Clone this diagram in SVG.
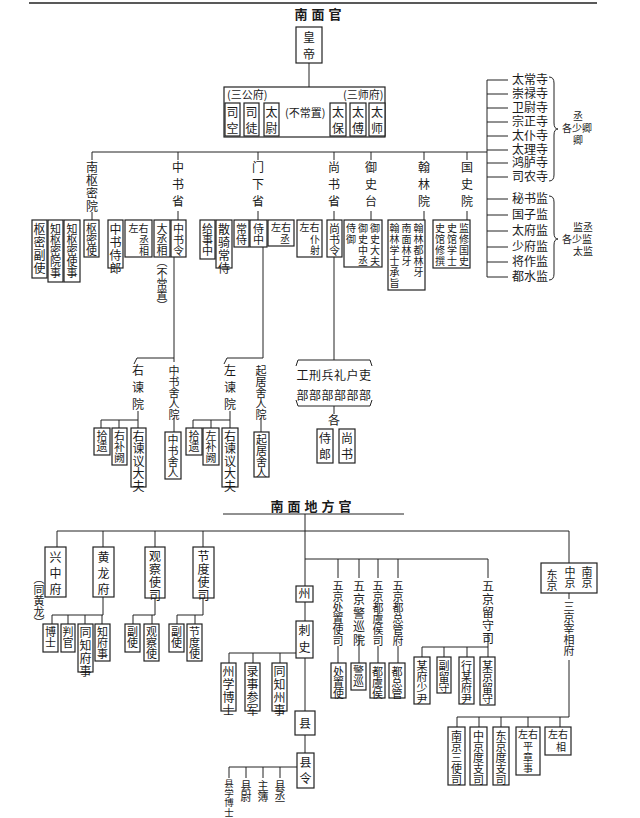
<svg xmlns="http://www.w3.org/2000/svg" width="640" height="818" viewBox="0 0 640 818">
<style>
text{font-family:"Noto Sans CJK SC","Noto Sans",sans-serif;fill:#1a1a1a;font-size:12px}
.v{writing-mode:vertical-rl;letter-spacing:1px}
.vl{writing-mode:vertical-rl;letter-spacing:5px}
.vm{writing-mode:vertical-rl;letter-spacing:0px;font-size:11px}
.vs{writing-mode:vertical-rl;letter-spacing:1px;font-size:10px}
.s{font-size:10px}
.t{font-weight:bold;font-size:13px;letter-spacing:4px}
rect{fill:#fff;stroke:#222;stroke-width:1.2}
.c line,.c path{stroke:#222;stroke-width:1;fill:none}
</style>
<rect width="640" height="818" style="stroke:none"/>
<g class="c" id="connectors">
<line x1="29" y1="3" x2="597" y2="3" style="stroke-width:1.5"/>
<line x1="309" y1="63" x2="309" y2="87"/>
<line x1="92" y1="152" x2="487" y2="152"/>
<line x1="487" y1="80" x2="487" y2="277"/>
<line x1="487" y1="80" x2="508" y2="80"/><line x1="487" y1="94" x2="508" y2="94"/><line x1="487" y1="108" x2="508" y2="108"/><line x1="487" y1="122" x2="508" y2="122"/><line x1="487" y1="136" x2="508" y2="136"/><line x1="487" y1="150" x2="508" y2="150"/><line x1="487" y1="163" x2="508" y2="163"/><line x1="487" y1="177" x2="508" y2="177"/>
<line x1="487" y1="199" x2="508" y2="199"/><line x1="487" y1="215" x2="508" y2="215"/><line x1="487" y1="231" x2="508" y2="231"/><line x1="487" y1="247" x2="508" y2="247"/><line x1="487" y1="262" x2="508" y2="262"/><line x1="487" y1="277" x2="508" y2="277"/>
<path d="M549,77 Q554,77 554,83 L554,123 Q554,129 558,129 Q554,129 554,135 L554,175 Q554,181 549,181"/>
<path d="M549,196 Q554,196 554,202 L554,233 Q554,239 558,239 Q554,239 554,245 L554,274 Q554,280 549,280"/>
<line x1="92" y1="152" x2="92" y2="160"/><line x1="92" y1="212" x2="92" y2="220"/>
<line x1="178" y1="152" x2="178" y2="160"/><line x1="178" y1="211" x2="178" y2="220"/>
<line x1="258" y1="152" x2="258" y2="160"/><line x1="258" y1="211" x2="258" y2="220"/>
<line x1="334" y1="152" x2="334" y2="160"/><line x1="334" y1="211" x2="334" y2="220"/>
<line x1="371" y1="152" x2="371" y2="160"/><line x1="371" y1="211" x2="371" y2="220"/>
<line x1="424" y1="152" x2="424" y2="160"/><line x1="424" y1="211" x2="424" y2="220"/>
<line x1="467" y1="152" x2="467" y2="160"/><line x1="467" y1="211" x2="467" y2="220"/>
<line x1="174" y1="257" x2="174" y2="358"/>
<path d="M134,364 L137,358 L174,358"/>
<line x1="174" y1="358" x2="174" y2="362"/>
<line x1="138" y1="411" x2="138" y2="428"/>
<line x1="101" y1="420" x2="138" y2="420"/><line x1="101" y1="420" x2="101" y2="428"/><line x1="119" y1="420" x2="119" y2="428"/>
<line x1="174" y1="418" x2="174" y2="432"/>
<line x1="263" y1="247" x2="263" y2="358"/>
<path d="M224,364 L227,358 L263,358"/>
<line x1="230" y1="411" x2="230" y2="428"/>
<line x1="193" y1="420" x2="230" y2="420"/><line x1="193" y1="420" x2="193" y2="428"/><line x1="211" y1="420" x2="211" y2="428"/>
<line x1="261" y1="418" x2="261" y2="432"/>
<line x1="334" y1="257" x2="334" y2="360"/>
<path d="M296,366 L298,360 L370,360 L372,366"/>
<path d="M296,400 L298,406 L370,406 L372,400"/>
<line x1="334" y1="406" x2="334" y2="414"/>
<line x1="223" y1="514" x2="404" y2="514"/>
<line x1="305" y1="514" x2="305" y2="586"/>
<line x1="57" y1="531" x2="569" y2="531"/>
<line x1="57" y1="531" x2="57" y2="547"/><line x1="103" y1="531" x2="103" y2="547"/><line x1="155" y1="531" x2="155" y2="547"/><line x1="203" y1="531" x2="203" y2="547"/><line x1="569" y1="531" x2="569" y2="563"/>
<line x1="103" y1="597" x2="103" y2="615"/><line x1="52" y1="615" x2="103" y2="615"/>
<line x1="52" y1="615" x2="52" y2="624"/><line x1="68" y1="615" x2="68" y2="624"/><line x1="85" y1="615" x2="85" y2="624"/><line x1="102" y1="615" x2="102" y2="624"/>
<line x1="155" y1="598" x2="155" y2="615"/><line x1="133" y1="615" x2="155" y2="615"/><line x1="133" y1="615" x2="133" y2="624"/><line x1="152" y1="615" x2="152" y2="624"/>
<line x1="203" y1="598" x2="203" y2="615"/><line x1="177" y1="615" x2="203" y2="615"/><line x1="177" y1="615" x2="177" y2="624"/><line x1="195" y1="615" x2="195" y2="624"/>
<line x1="305" y1="559" x2="488" y2="559"/>
<line x1="338" y1="559" x2="338" y2="578"/><line x1="359" y1="559" x2="359" y2="578"/><line x1="378" y1="559" x2="378" y2="578"/><line x1="398" y1="559" x2="398" y2="578"/><line x1="488" y1="559" x2="488" y2="578"/>
<line x1="338" y1="646" x2="338" y2="663"/><line x1="359" y1="634" x2="359" y2="663"/><line x1="378" y1="646" x2="378" y2="663"/><line x1="398" y1="646" x2="398" y2="663"/>
<line x1="305" y1="602" x2="305" y2="621"/>
<line x1="305" y1="658" x2="305" y2="711"/>
<line x1="229" y1="653" x2="296" y2="653"/><line x1="229" y1="653" x2="229" y2="663"/><line x1="253" y1="653" x2="253" y2="663"/><line x1="280" y1="653" x2="280" y2="663"/>
<line x1="305" y1="735" x2="305" y2="753"/>
<line x1="229" y1="767" x2="297" y2="767"/><line x1="229" y1="767" x2="229" y2="778"/><line x1="246" y1="767" x2="246" y2="778"/><line x1="263" y1="767" x2="263" y2="778"/><line x1="280" y1="767" x2="280" y2="778"/>
<line x1="488" y1="634" x2="488" y2="657"/><line x1="422" y1="647" x2="488" y2="647"/>
<line x1="422" y1="647" x2="422" y2="657"/><line x1="444" y1="647" x2="444" y2="657"/><line x1="467" y1="647" x2="467" y2="657"/>
<line x1="569" y1="593" x2="569" y2="599"/><line x1="569" y1="660" x2="569" y2="717"/>
<line x1="457" y1="717" x2="569" y2="717"/>
<line x1="457" y1="717" x2="457" y2="727"/><line x1="479" y1="717" x2="479" y2="727"/><line x1="501" y1="717" x2="501" y2="727"/><line x1="528" y1="717" x2="528" y2="727"/><line x1="560" y1="717" x2="560" y2="727"/>
</g>
<text x="320" y="19" text-anchor="middle" class="t">南面官</text>
<text x="313" y="511" text-anchor="middle" class="t">南面地方官</text>
<g id="huangdi"><rect x="296" y="27" width="26" height="36"/><text class="v" x="309" y="31" style="letter-spacing:5px">皇帝</text></g>
<g id="sangong">
<rect x="224" y="87" width="161" height="50"/>
<text x="227" y="99" style="font-size:11px">(三公府)</text>
<text x="343" y="99" style="font-size:11px">(三师府)</text>
<text x="285" y="117" style="font-size:11px">(不常置)</text>
<rect x="225" y="103" width="15" height="33"/><text class="v" x="232.5" y="106" style="letter-spacing:4px">司空</text>
<rect x="244" y="103" width="15" height="33"/><text class="v" x="251.5" y="106" style="letter-spacing:4px">司徒</text>
<rect x="264" y="103" width="15" height="33"/><text class="v" x="271.5" y="106" style="letter-spacing:4px">太尉</text>
<rect x="330" y="103" width="16" height="33"/><text class="v" x="338" y="106" style="letter-spacing:4px">太保</text>
<rect x="350" y="103" width="16" height="33"/><text class="v" x="358" y="106" style="letter-spacing:4px">太傅</text>
<rect x="369" y="103" width="16" height="33"/><text class="v" x="377" y="106" style="letter-spacing:4px">太师</text>
</g>
<g id="siqing">
<text x="512" y="84">太常寺</text><text x="512" y="98">崇禄寺</text><text x="512" y="112">卫尉寺</text><text x="512" y="126">宗正寺</text><text x="512" y="140">太仆寺</text><text x="512" y="154">太理寺</text><text x="512" y="167">鸿胪寺</text><text x="512" y="181">司农寺</text>
<text x="578" y="120" text-anchor="middle" class="s">丞</text><text x="577" y="132" text-anchor="middle" class="s">各少卿</text><text x="578" y="144" text-anchor="middle" class="s">卿</text>
</g>
<g id="jian">
<text x="512" y="203">秘书监</text><text x="512" y="219">国子监</text><text x="512" y="235">太府监</text><text x="512" y="251">少府监</text><text x="512" y="266">将作监</text><text x="512" y="281">都水监</text>
<text x="583" y="231" text-anchor="middle" class="s">监丞</text><text x="577" y="243" text-anchor="middle" class="s">各少监</text><text x="583" y="255" text-anchor="middle" class="s">太监</text>
</g>
<g id="shumiyuan">
<text class="vl" x="92" y="161" style="letter-spacing:1px">南枢密院</text>
<rect x="32" y="220" width="15" height="58"/><text class="v" x="39.5" y="223">枢密副使</text>
<rect x="48" y="220" width="15" height="62"/><text class="vm" x="55.5" y="223">知枢密院事</text>
<rect x="64" y="220" width="16" height="62"/><text class="vm" x="72" y="223">知枢密使事</text>
<rect x="84" y="220" width="15" height="37"/><text class="vm" x="91.5" y="223">枢密使</text>
</g>
<g id="zhongshusheng">
<text class="vl" x="178" y="161">中书省</text>
<rect x="108" y="220" width="15" height="48"/><text class="v" x="115.5" y="223">中书侍郎</text>
<rect x="125" y="220" width="27" height="37"/><text x="138.5" y="232" text-anchor="middle" class="s">左右</text><text class="vs" x="144" y="235">丞相</text>
<rect x="154" y="220" width="16" height="37"/><text class="vm" x="162" y="223">大丞相（不常置）</text>
<rect x="171" y="220" width="15" height="37"/><text class="vm" x="178.5" y="223">中书令</text>
</g>
<g id="menxiasheng">
<text class="vl" x="258" y="161">门下省</text>
<rect x="200" y="220" width="15" height="39"/><text class="vm" x="207.5" y="223">给事中</text>
<rect x="216" y="220" width="16" height="48"/><text class="v" x="224" y="223">散骑常侍</text>
<rect x="234" y="220" width="15" height="27"/><text class="vm" x="241.5" y="223">常侍</text>
<rect x="250" y="220" width="17" height="27"/><text class="vm" x="258.5" y="223">侍中</text>
<rect x="268" y="220" width="26" height="26"/><text x="281" y="231" text-anchor="middle" class="s">左右</text><text x="285" y="243" text-anchor="middle" class="s">丞</text>
</g>
<g id="shangshusheng">
<text class="vl" x="334" y="161">尚书省</text>
<rect x="297" y="220" width="25" height="37"/><text x="309.5" y="231" text-anchor="middle" class="s">左右</text><text class="vs" x="315" y="234">仆射</text>
<rect x="327" y="220" width="15" height="37"/><text class="vm" x="334.5" y="223">尚书令</text>
</g>
<g id="yushitai">
<text class="vl" x="371" y="161">御史台</text>
<rect x="344" y="220" width="38" height="47"/>
<text class="vs" x="351" y="223">侍御</text><text class="vs" x="363" y="223">御史中丞</text><text class="vs" x="375" y="223">御史大夫</text>
</g>
<g id="hanlinyuan">
<text class="vl" x="424" y="161">翰林院</text>
<rect x="388" y="220" width="37" height="70"/>
<text class="vs" x="394.5" y="223">翰林学士承旨</text><text class="vs" x="406.5" y="223">南面林牙</text><text class="vs" x="418.5" y="223">翰林都林牙</text>
</g>
<g id="guoshiyuan">
<text class="vl" x="467" y="161">国史院</text>
<rect x="433" y="220" width="37" height="48"/>
<text class="vs" x="440" y="223">史馆修撰</text><text class="vs" x="452" y="223">史馆学士</text><text class="vs" x="464" y="223">监修国史</text>
</g>
<g id="youjianyuan">
<text class="vl" x="138" y="364">右谏院</text>
<rect x="94" y="428" width="16" height="27"/><text class="vm" x="102" y="430">拾遗</text>
<rect x="112" y="428" width="15" height="37"/><text class="vm" x="119.5" y="430">右补阙</text>
<rect x="131" y="428" width="15" height="59"/><text class="v" x="138.5" y="430" style="letter-spacing:0.5px">右谏议大夫</text>
</g>
<g id="zhongshusheren">
<text class="vm" x="174" y="365">中书舍人院</text>
<rect x="165" y="432" width="16" height="47"/><text class="vm" x="173" y="434">中书舍人</text>
</g>
<g id="zuojianyuan">
<text class="vl" x="230" y="364">左谏院</text>
<rect x="186" y="428" width="16" height="27"/><text class="vm" x="194" y="430">拾遗</text>
<rect x="203" y="428" width="16" height="37"/><text class="vm" x="211" y="430">左补阙</text>
<rect x="222" y="428" width="16" height="59"/><text class="v" x="230" y="430" style="letter-spacing:0.5px">右谏议大夫</text>
</g>
<g id="qijusheren">
<text class="vm" x="261" y="365">起居舍人院</text>
<rect x="254" y="432" width="15" height="45"/><text class="vm" x="261.5" y="434">起居舍人</text>
</g>
<g id="liubu">
<text x="334" y="380" text-anchor="middle" style="letter-spacing:0.5px">工刑兵礼户吏</text>
<text x="334" y="400" text-anchor="middle" style="letter-spacing:0.5px">部部部部部部</text>
<text x="334" y="425" text-anchor="middle">各</text>
<rect x="317" y="429" width="16" height="34"/><text class="v" x="325" y="432" style="letter-spacing:4px">侍郎</text>
<rect x="339" y="429" width="16" height="34"/><text class="v" x="347" y="432" style="letter-spacing:4px">尚书</text>
</g>
<g id="xingzhongfu">
<rect x="45" y="547" width="21" height="50"/><text class="v" x="55.5" y="551" style="letter-spacing:4px">兴中府</text>
<text class="vm" x="39" y="573">（同黄龙）</text>
</g>
<g id="huanglongfu">
<rect x="93" y="547" width="21" height="50"/><text class="v" x="103.5" y="551" style="letter-spacing:4px">黄龙府</text>
<rect x="43" y="624" width="15" height="28"/><text class="vm" x="50.5" y="626">博士</text>
<rect x="61" y="624" width="14" height="28"/><text class="vm" x="68" y="626">判官</text>
<rect x="78" y="624" width="15" height="48"/><text class="v" x="85.5" y="626">同知府事</text>
<rect x="95" y="624" width="15" height="37"/><text class="vm" x="102.5" y="626">知府事</text>
</g>
<g id="guanchashisi">
<rect x="145" y="547" width="20" height="51"/><text class="v" x="155" y="550">观察使司</text>
<rect x="125" y="624" width="15" height="28"/><text class="vm" x="132.5" y="626">副使</text>
<rect x="144" y="624" width="15" height="37"/><text class="vm" x="151.5" y="626">观察使</text>
</g>
<g id="jiedushisi">
<rect x="193" y="547" width="21" height="51"/><text class="v" x="203.5" y="550">节度使司</text>
<rect x="169" y="624" width="15" height="28"/><text class="vm" x="176.5" y="626">副使</text>
<rect x="187" y="624" width="15" height="37"/><text class="vm" x="194.5" y="626">节度使</text>
</g>
<g id="zhou">
<rect x="296" y="586" width="17" height="16"/><text x="304.5" y="598" text-anchor="middle">州</text>
<rect x="296" y="621" width="17" height="37"/><text class="v" x="304.5" y="624" style="letter-spacing:5px">刺史</text>
<rect x="221" y="663" width="15" height="48"/><text class="v" x="228.5" y="665">州学博士</text>
<rect x="245" y="663" width="15" height="48"/><text class="v" x="252.5" y="665">录事参军</text>
<rect x="272" y="663" width="15" height="48"/><text class="v" x="279.5" y="665">同知州事</text>
</g>
<g id="xian">
<rect x="295" y="711" width="20" height="24"/><text x="305" y="728" text-anchor="middle">县</text>
<rect x="297" y="753" width="17" height="35"/><text class="v" x="305.5" y="756" style="letter-spacing:4px">县令</text>
<text class="vm" x="229" y="779" style="font-size:9.5px">县学博士</text>
<text class="vm" x="246" y="780">县尉</text>
<text class="vm" x="263" y="780">主簿</text>
<text class="vm" x="280" y="780">县丞</text>
</g>
<g id="wujing">
<text class="vm" x="338" y="580">五京处置使司</text>
<rect x="331" y="663" width="15" height="35"/><text class="vm" x="338.5" y="666">处置使</text>
<text class="v" x="359" y="580" style="letter-spacing:1.5px">五京警巡院</text>
<rect x="351" y="663" width="15" height="27"/><text class="vm" x="358.5" y="665">警巡</text>
<text class="vm" x="378" y="580">五京都虞侯司</text>
<rect x="370" y="663" width="15" height="35"/><text class="vm" x="377.5" y="666">都虞侯</text>
<text class="vm" x="398" y="580">五京都总管府</text>
<rect x="389" y="663" width="16" height="35"/><text class="vm" x="397" y="666">都总管</text>
<text class="v" x="488" y="580">五京留守司</text>
<rect x="414" y="657" width="16" height="47"/><text class="vm" x="422" y="660">某府少尹</text>
<rect x="437" y="657" width="14" height="36"/><text class="vm" x="444" y="660">副留守</text>
<rect x="459" y="657" width="15" height="47"/><text class="vm" x="466.5" y="660">行某府尹</text>
<rect x="480" y="657" width="15" height="48"/><text class="vm" x="487.5" y="660">某京留守</text>
</g>
<g id="sanjing">
<rect x="541" y="563" width="56" height="30"/>
<text class="vm" x="552" y="569">东京</text><text class="vm" x="570" y="566">中京</text><text class="vm" x="587" y="566">南京</text>
<text class="vm" x="569" y="601">三京宰相府</text>
<rect x="448" y="727" width="17" height="58"/><text class="vm" x="456.5" y="730">南京三使司</text>
<rect x="470" y="727" width="17" height="58"/><text class="vm" x="478.5" y="730">中京度支司</text>
<rect x="493" y="727" width="16" height="58"/><text class="vm" x="501" y="730">东京度支司</text>
<rect x="516" y="727" width="24" height="48"/><text x="528" y="738" text-anchor="middle" class="s">左右</text><text class="vs" x="528" y="741">平章事</text>
<rect x="545" y="727" width="26" height="28"/><text x="558" y="738" text-anchor="middle" class="s">左右</text><text x="561" y="751" text-anchor="middle" class="s">相</text>
</g>
</svg>
